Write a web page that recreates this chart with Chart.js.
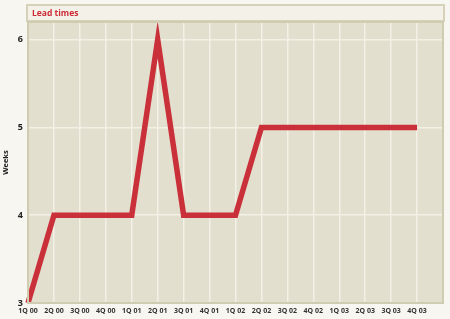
<!DOCTYPE html>
<html><head><meta charset="utf-8">
<script src="https://cdn.jsdelivr.net/npm/chart.js@4/dist/chart.umd.min.js"></script>
<style>html,body{margin:0;padding:0;background:#f7f6f1;}#wrap{width:450px;height:319px;position:relative;}</style>
</head><body><div id="wrap"><canvas id="c" width="450" height="319"></canvas></div>
<script>
const chartTitle = "Lead times";
const yAxisTitle = "Weeks";
const quarters = ["1Q 00","2Q 00","3Q 00","4Q 00","1Q 01","2Q 01","3Q 01","4Q 01","1Q 02","2Q 02","3Q 02","4Q 02","1Q 03","2Q 03","3Q 03","4Q 03"];
const leadTimes = [3, 4, 4, 4, 4, 6, 4, 4, 4, 5, 5, 5, 5, 5, 5, 5];
const yTicks = [3, 4, 5, 6];

const decor = {
  id: 'decor',
  beforeDraw(chart) {
    const {ctx, chartArea: a} = chart;
    ctx.save();
    ctx.fillStyle = '#f7f6f1';
    ctx.fillRect(0, 0, chart.width, chart.height);
    ctx.fillStyle = '#f3f1e8';
    ctx.fillRect(a.left - 1, 5, a.right - a.left + 2, 16);
    ctx.strokeStyle = '#d6d2b9';
    ctx.lineWidth = 2;
    ctx.strokeRect(a.left - 1, 5, a.right - a.left + 2, 16);
    ctx.fillStyle = '#cc2a35';
    ctx.font = 'bold 8.5px "Open Sans"';
    ctx.textBaseline = 'middle';
    ctx.fillText(chartTitle, a.left + 4, 13.5);
    ctx.fillStyle = '#e3dfcf';
    ctx.fillRect(a.left, a.top, a.right - a.left, a.bottom - a.top);
    ctx.restore();
  },
  afterDraw(chart) {
    const {ctx, chartArea: a} = chart;
    ctx.save();
    ctx.strokeStyle = '#d0ccb2';
    ctx.lineWidth = 2;
    ctx.strokeRect(a.left, a.top, a.right - a.left, a.bottom - a.top);
    ctx.restore();
  }
};

new Chart(document.getElementById('c'), {
  type: 'line',
  data: {
    labels: quarters.concat(['']),
    datasets: [{
      data: leadTimes,
      borderColor: '#c9303a',
      borderWidth: 5.5,
      pointRadius: 0,
      tension: 0,
      fill: false
    }]
  },
  options: {
    responsive: false,
    animation: false,
    devicePixelRatio: 1,
    layout: {padding: {top: 22, right: 7, left: 0, bottom: 0}},
    plugins: {legend: {display: false}, tooltip: {enabled: false}},
    scales: {
      x: {
        offset: false,
        grid: {color: '#f3f0e6', lineWidth: 1.5, drawTicks: false},
        border: {display: false},
        ticks: {autoSkip: false, maxRotation: 0, padding: 4, color: '#333', font: {family: '"Open Sans"', size: 7, weight: 'bold'}},
        afterFit(s) { s.height = 16; }
      },
      y: {
        min: 3, max: 6.2,
        afterBuildTicks(s) { s.ticks = yTicks.map(v => ({value: v})); },
        grid: {color: '#f3f0e6', lineWidth: 1.5, drawTicks: false},
        border: {display: false},
        ticks: {padding: 5, color: '#222', font: {family: '"Open Sans"', size: 9, weight: 'bold'}},
        title: {display: true, text: yAxisTitle, color: '#222', padding: {top: 1, bottom: 0}, font: {family: '"Open Sans"', size: 7.5, weight: 'bold'}},
        afterFit(s) { s.width = 28; }
      }
    }
  },
  plugins: [decor]
});
</script></body></html>
